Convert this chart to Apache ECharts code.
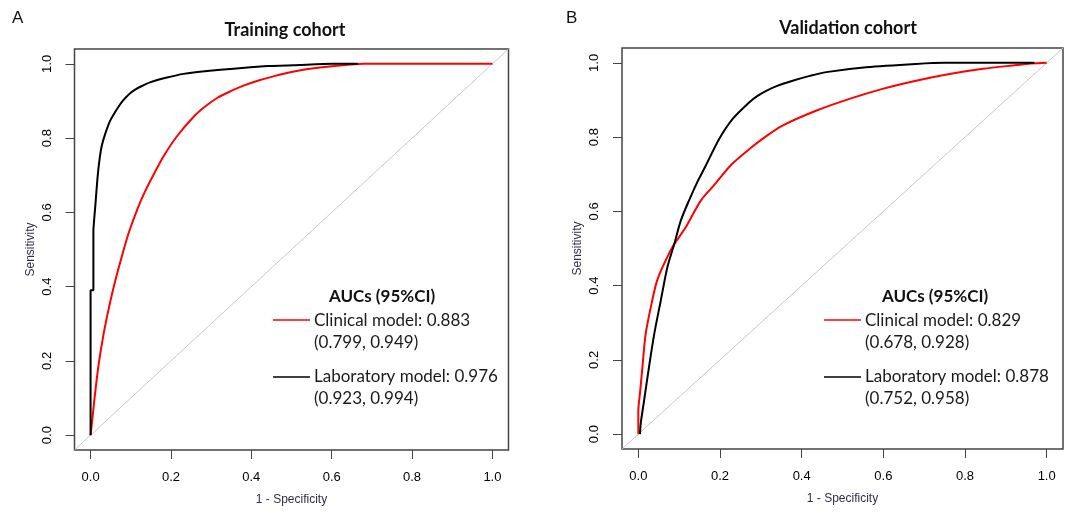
<!DOCTYPE html>
<html>
<head>
<meta charset="utf-8">
<script src="https://cdn.jsdelivr.net/npm/echarts@6/dist/echarts.min.js"></script>
<style>
html,body{margin:0;padding:0;background:#fff;}
#chart{width:1068px;height:518px;}
</style>
</head>
<body>
<div id="chart"></div>
<script>
// tick values shared by both panels
var tickValues = [0, 0.2, 0.4, 0.6, 0.8, 1.0];
var diagonal = [[-0.04, -0.04], [1.04, 1.04]];

// Training cohort, [1 - specificity, sensitivity]
var trainClinical = [[0,0],[0.006,0.06],[0.012,0.12],[0.02,0.19],[0.032,0.27],[0.045,0.34],[0.06,0.41],[0.08,0.49],[0.095,0.545],[0.117,0.61],[0.135,0.655],[0.156,0.7],[0.181,0.75],[0.215,0.805],[0.256,0.857],[0.285,0.885],[0.315,0.908],[0.35,0.927],[0.382,0.942],[0.42,0.956],[0.457,0.967],[0.5,0.978],[0.541,0.986],[0.607,0.994],[0.68,1.0],[1.0,1.0]];
var trainLab = [[0,0],[0,0.39],[0.007,0.39],[0.007,0.55],[0.012,0.62],[0.017,0.69],[0.022,0.74],[0.028,0.78],[0.036,0.81],[0.048,0.845],[0.06,0.868],[0.07,0.885],[0.08,0.9],[0.09,0.912],[0.1,0.922],[0.112,0.931],[0.125,0.939],[0.148,0.95],[0.19,0.963],[0.231,0.973],[0.29,0.981],[0.356,0.987],[0.44,0.994],[0.52,0.997],[0.6,1.0],[0.665,1.0]];

// Validation cohort
var validClinical = [[0,0],[0,0.063],[0.004,0.11],[0.01,0.18],[0.018,0.27],[0.034,0.36],[0.045,0.41],[0.059,0.449],[0.083,0.503],[0.116,0.557],[0.153,0.629],[0.185,0.67],[0.227,0.725],[0.272,0.768],[0.31,0.8],[0.353,0.831],[0.435,0.871],[0.517,0.903],[0.598,0.93],[0.68,0.952],[0.762,0.97],[0.844,0.984],[0.926,0.994],[0.96,0.998],[1.0,1.0]];
var validLab = [[0.004,0],[0.006,0.03],[0.014,0.09],[0.026,0.18],[0.039,0.27],[0.055,0.36],[0.071,0.449],[0.088,0.512],[0.104,0.575],[0.124,0.629],[0.145,0.68],[0.165,0.723],[0.198,0.795],[0.231,0.849],[0.272,0.894],[0.292,0.911],[0.312,0.924],[0.34,0.938],[0.378,0.952],[0.42,0.965],[0.46,0.975],[0.558,0.988],[0.68,0.997],[0.75,1.0],[0.97,1.0]];

var panelTitles = ['Training cohort', 'Validation cohort'];
var legendHeader = 'AUCs (95%CI)';
var clinicalLabels = ['Clinical model: 0.883\n(0.799, 0.949)', 'Clinical model: 0.829\n(0.678, 0.928)'];
var labLabels = ['Laboratory model: 0.976\n(0.923, 0.994)', 'Laboratory model: 0.878\n(0.752, 0.958)'];

var myChart = echarts.init(document.getElementById('chart'), null, {renderer: 'canvas'});

function fmt(v){ return v.toFixed(1); }

function makeX(idx){
	return {
		gridIndex: idx, type: 'value', min: -0.04, max: 1.04,
		axisLine: {show: false, onZero: false},
		axisTick: {show: true, customValues: tickValues, length: 9, lineStyle: {color: '#444', width: 1}},
		axisLabel: {customValues: tickValues, formatter: fmt, margin: 21, fontSize: 13, color: '#000', fontFamily: 'Liberation Sans'},
		splitLine: {show: false},
		name: '1 - Specificity', nameLocation: 'middle', nameGap: 44,
		nameTextStyle: {fontSize: 12, color: '#2f2f45', fontFamily: 'Liberation Sans'}
	};
}
function makeY(idx){
	return {
		gridIndex: idx, type: 'value', min: -0.04, max: 1.04,
		axisLine: {show: false, onZero: false},
		axisTick: {show: true, customValues: tickValues, length: 9, lineStyle: {color: '#444', width: 1}},
		axisLabel: {customValues: tickValues, formatter: fmt, rotate: 90, margin: 21, fontSize: 13, color: '#000', fontFamily: 'Liberation Sans'},
		splitLine: {show: false},
		name: 'Sensitivity', nameLocation: 'middle', nameGap: 38,
		nameTextStyle: {fontSize: 12, color: '#2f2f45', fontFamily: 'Liberation Sans'}
	};
}
function curve(idx, data, color, sm){
	return {type: 'line', xAxisIndex: idx, yAxisIndex: idx, data: data, showSymbol: false, symbol: 'none',
		smooth: sm, lineStyle: {color: color, width: 2}, silent: true, animation: false};
}

// legend drawn as graphics (two-line entries)
var legendPos = [{cx: 382, lx: 273}, {cx: 935, lx: 824}];
var graphics = [
	{type: 'text', left: 12, top: 10, style: {text: 'A', fontSize: 17, fontFamily: 'Liberation Sans', fill: '#111'}},
	{type: 'text', left: 566, top: 10, style: {text: 'B', fontSize: 17, fontFamily: 'Liberation Sans', fill: '#111'}},
	{type: 'text', x: 285, y: 30, style: {text: panelTitles[0], fontSize: 18, fontWeight: 'bold', fontFamily: 'Lato', fill: '#111', align: 'center', verticalAlign: 'middle'}},
	{type: 'text', x: 848, y: 28, style: {text: panelTitles[1], fontSize: 18, fontWeight: 'bold', fontFamily: 'Lato', fill: '#111', align: 'center', verticalAlign: 'middle'}}
];
for (var i = 0; i < 2; i++) {
	var p = legendPos[i];
	graphics.push({type: 'text', x: p.cx, y: 297, style: {text: legendHeader, fontSize: 17, fontWeight: 'bold', fontFamily: 'Lato', fill: '#111', align: 'center', verticalAlign: 'middle'}});
	graphics.push({type: 'line', shape: {x1: p.lx, y1: 320, x2: p.lx + 37, y2: 320}, style: {stroke: '#ff0000', lineWidth: 1.5}});
	graphics.push({type: 'text', x: p.lx + 41, y: 310, style: {text: clinicalLabels[i], fontSize: 17, lineHeight: 22, fontFamily: 'Lato', fill: '#1a1a1a'}});
	graphics.push({type: 'line', shape: {x1: p.lx, y1: 377, x2: p.lx + 37, y2: 377}, style: {stroke: '#000', lineWidth: 1.5}});
	graphics.push({type: 'text', x: p.lx + 41, y: 366, style: {text: labLabels[i], fontSize: 17, lineHeight: 22, fontFamily: 'Lato', fill: '#1a1a1a'}});
}

var option = {
	backgroundColor: '#fff',
	animation: false,
	grid: [
		{left: 74.5, top: 49, width: 434, height: 401, show: true, borderColor: '#444', borderWidth: 1.5, backgroundColor: 'transparent'},
		{left: 622, top: 48, width: 441, height: 401, show: true, borderColor: '#444', borderWidth: 1.5, backgroundColor: 'transparent'}
	],
	xAxis: [makeX(0), makeX(1)],
	yAxis: [makeY(0), makeY(1)],
	series: [
		{type: 'line', xAxisIndex: 0, yAxisIndex: 0, data: diagonal, symbol: 'none', lineStyle: {color: '#c8c8c8', width: 1}, silent: true},
		curve(0, trainClinical, '#ff0000', 0.3),
		curve(0, trainLab, '#000000', 0.15),
		{type: 'line', xAxisIndex: 1, yAxisIndex: 1, data: diagonal, symbol: 'none', lineStyle: {color: '#c8c8c8', width: 1}, silent: true},
		curve(1, validClinical, '#ff0000', 0.3),
		curve(1, validLab, '#000000', 0.3)
	],
	graphic: graphics
};
myChart.setOption(option);
</script>
</body>
</html>
